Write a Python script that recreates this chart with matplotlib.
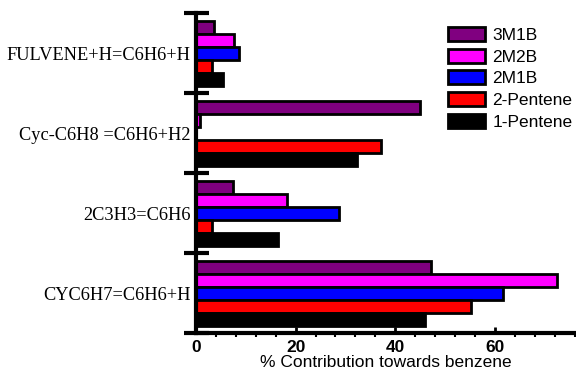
import numpy as np
import matplotlib
matplotlib.use('Agg')
import matplotlib.pyplot as plt

reactions = ['CYC6H7=C6H6+H', '2C3H3=C6H6', 'Cyc-C6H8 =C6H6+H2', 'FULVENE+H=C6H6+H']
series = ['3M1B', '2M2B', '2M1B', '2-Pentene', '1-Pentene']
colors = ['#800080', '#ff00ff', '#0000ff', '#ff0000', '#000000']

# values in same order as reactions (bottom to top)
v_3m1b = [47.1, 7.5, 45.0, 3.7]
v_2m2b = [72.5, 18.2, 0.8, 7.7]
v_2m1b = [61.6, 28.7, 0.0, 8.7]
v_2pent = [55.2, 3.3, 37.2, 3.3]
v_1pent = [45.9, 16.4, 32.3, 5.5]
values = [v_3m1b, v_2m2b, v_2m1b, v_2pent, v_1pent]

fig = plt.figure(figsize=(5.76, 3.73), dpi=100)
ax = fig.add_axes([0.340, 0.107, 0.658, 0.858])

y = np.arange(len(reactions))
h = 0.1625
for i, (name, vals, c) in enumerate(zip(series, values, colors)):
    ax.barh(y + (2 - i) * h, vals, height=h, color=c, edgecolor='black',
            linewidth=2, label=name)

ax.set_ylim(-0.5, 3.5)
ax.set_xlim(0, 76)
ax.spines['top'].set_visible(False)
ax.spines['right'].set_visible(False)
ax.spines['left'].set_linewidth(3)
ax.spines['bottom'].set_linewidth(3)

ax.set_yticks(y)
ax.set_yticklabels(reactions, family='Liberation Serif', fontsize=13.2)
ax.tick_params(axis='y', which='major', length=0, pad=4)
ax.set_yticks(np.arange(-0.5, 4, 1), minor=True)
ax.tick_params(axis='y', which='minor', direction='inout', length=18, width=3)

ax.set_xticks([0, 20, 40, 60])
ax.set_xticklabels(['0', '20', '40', '60'], family='Liberation Sans',
                   fontweight='bold', fontsize=12.5)
ax.set_xticks(np.arange(0, 77, 4), minor=True)
ax.tick_params(axis='x', which='major', direction='in', length=4, width=2, pad=5)
ax.tick_params(axis='x', which='minor', direction='out', length=3, width=1.5)
ax.set_xlabel('% Contribution towards benzene', family='Liberation Sans',
              fontsize=12.5, labelpad=0)

ax.legend(loc='upper right', bbox_to_anchor=(1.035, 1.005), frameon=False,
          prop={'family': 'Liberation Sans', 'size': 12.5},
          handlelength=2.1, handleheight=0.85, labelspacing=0.33,
          handletextpad=0.45)

fig.savefig('out.png', dpi=100)
